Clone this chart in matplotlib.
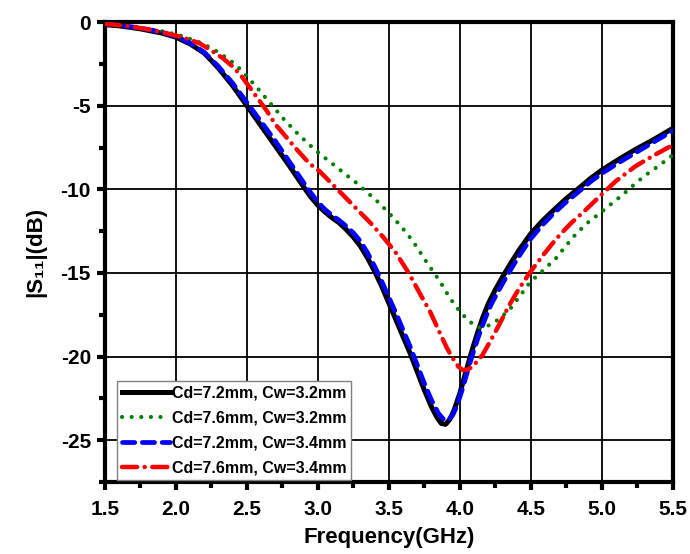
import matplotlib
matplotlib.use("Agg")
import matplotlib.pyplot as plt
from matplotlib.ticker import MultipleLocator

plt.rcParams['font.family'] = ['Liberation Sans', 'DejaVu Sans']
plt.rcParams['font.weight'] = 'bold'
plt.rcParams['axes.unicode_minus'] = False

# Cd=7.2mm, Cw=3.2mm
f_a = [1.5, 1.6, 1.75, 1.9, 2.0, 2.1, 2.2, 2.3, 2.4, 2.5, 2.6, 2.7, 2.8, 2.9, 2.95,
       3.0, 3.05, 3.1, 3.15, 3.2, 3.25, 3.3, 3.35, 3.4, 3.45, 3.5, 3.55, 3.6, 3.65,
       3.7, 3.75, 3.8, 3.84, 3.87, 3.9, 3.93, 3.96, 4.0, 4.04, 4.08, 4.12, 4.16, 4.2,
       4.25, 4.3, 4.36, 4.42, 4.5, 4.58, 4.66, 4.75, 4.85, 4.92, 5.0, 5.12, 5.24,
       5.37, 5.5]
s_a = [-0.15, -0.22, -0.4, -0.65, -0.9, -1.3, -1.85, -2.75, -3.8, -5.0, -6.2, -7.4,
       -8.6, -9.85, -10.45, -10.95, -11.35, -11.7, -12.0, -12.4, -12.85, -13.4, -14.1,
       -14.9, -15.8, -16.8, -17.8, -18.8, -19.8, -20.9, -22.0, -23.0, -23.65, -24.0,
       -24.05, -23.75, -23.2, -22.2, -21.0, -19.8, -18.7, -17.7, -16.85, -16.0, -15.25,
       -14.4, -13.6, -12.65, -11.9, -11.25, -10.55, -9.85, -9.35, -8.85, -8.2, -7.6,
       -7.0, -6.35]

# Cd=7.6mm, Cw=3.2mm
f_b = [1.5, 1.75, 1.93, 2.05, 2.19, 2.3, 2.4, 2.47, 2.57, 2.67, 2.76, 2.85, 2.93,
       3.01, 3.1, 3.18, 3.27, 3.35, 3.43, 3.51, 3.59, 3.67, 3.77, 3.86, 3.93, 4.0,
       4.06, 4.11, 4.15, 4.2, 4.27, 4.35, 4.43, 4.5, 4.58, 4.68, 4.75, 4.82, 4.9,
       4.99, 5.07, 5.15, 5.23, 5.3, 5.4, 5.5]
s_b = [-0.1, -0.35, -0.58, -0.85, -1.28, -1.8, -2.4, -2.95, -3.9, -4.9, -5.8, -6.6,
       -7.25, -7.85, -8.45, -9.0, -9.6, -10.2, -10.8, -11.5, -12.25, -13.1, -14.4,
       -15.5, -16.5, -17.3, -17.85, -18.15, -18.3, -18.15, -17.8, -17.2, -16.3, -15.5,
       -14.9, -14.1, -13.35, -12.65, -12.0, -11.4, -10.85, -10.3, -9.7, -9.2, -8.6,
       -7.95]

# Cd=7.2mm, Cw=3.4mm
f_c = [1.5, 1.6, 1.75, 1.9, 2.0, 2.1, 2.2, 2.3, 2.4, 2.5, 2.6, 2.7, 2.8, 2.9, 2.95,
       3.0, 3.05, 3.1, 3.15, 3.2, 3.25, 3.3, 3.35, 3.4, 3.45, 3.5, 3.55, 3.6, 3.65,
       3.7, 3.75, 3.8, 3.85, 3.89, 3.92, 3.95, 3.98, 4.02, 4.06, 4.1, 4.14, 4.18,
       4.22, 4.27, 4.32, 4.38, 4.44, 4.5, 4.58, 4.66, 4.75, 4.85, 4.92, 5.0, 5.12,
       5.24, 5.37, 5.5]
s_c = [-0.1, -0.18, -0.35, -0.6, -0.85, -1.25, -1.8, -2.65, -3.65, -4.8, -5.95, -7.1,
       -8.35, -9.6, -10.2, -10.75, -11.2, -11.55, -11.85, -12.2, -12.6, -13.1, -13.8,
       -14.6, -15.5, -16.45, -17.4, -18.4, -19.4, -20.5, -21.6, -22.6, -23.4, -23.8,
       -23.8, -23.5, -22.95, -21.9, -20.7, -19.6, -18.6, -17.7, -16.9, -16.1, -15.35,
       -14.5, -13.7, -12.95, -12.15, -11.45, -10.75, -10.05, -9.55, -9.05, -8.4, -7.8,
       -7.15, -6.5]

# Cd=7.6mm, Cw=3.4mm
f_d = [1.5, 1.65, 1.77, 1.9, 2.0, 2.1, 2.17, 2.25, 2.33, 2.4, 2.46, 2.52, 2.58, 2.64,
       2.7, 2.75, 2.85, 2.94, 3.01, 3.08, 3.15, 3.26, 3.37, 3.46, 3.55, 3.64, 3.73,
       3.79, 3.86, 3.91, 3.95, 3.99, 4.02, 4.05, 4.09, 4.16, 4.22, 4.28, 4.35, 4.42,
       4.5, 4.59, 4.68, 4.78, 4.89, 5.0, 5.1, 5.24, 5.36, 5.5]
s_d = [-0.1, -0.22, -0.38, -0.6, -0.8, -1.05, -1.28, -1.7, -2.15, -2.65, -3.2, -3.9,
       -4.6, -5.3, -6.1, -6.6, -7.6, -8.45, -8.9, -9.5, -10.1, -11.05, -12.0, -12.85,
       -13.8, -15.0, -16.4, -17.3, -18.6, -19.5, -20.1, -20.6, -20.8, -20.8, -20.6,
       -19.9, -19.0, -18.05, -16.9, -15.9, -14.9, -13.9, -12.95, -12.05, -11.2, -10.3,
       -9.5, -8.6, -8.0, -7.35]

labels = ['Cd=7.2mm, Cw=3.2mm', 'Cd=7.6mm, Cw=3.2mm',
          'Cd=7.2mm, Cw=3.4mm', 'Cd=7.6mm, Cw=3.4mm']

fig = plt.figure(figsize=(6.9, 5.54), dpi=100)
ax = fig.add_axes([0.152, 0.130, 0.823, 0.830])

ax.plot(f_a, s_a, color='black', lw=3.6, label=labels[0], zorder=3)
ax.plot(f_b, s_b, color='green', lw=3.0, linestyle=(0, (0.01, 2.3)),
        dash_capstyle='round', label=labels[1], zorder=4)
ax.plot(f_c, s_c, color='blue', lw=3.4, linestyle=(0, (2.6, 1.6)),
        dash_capstyle='round', label=labels[2], zorder=5)
ax.plot(f_d, s_d, color='red', lw=3.2, linestyle=(0, (3.4, 1.7, 0.01, 1.7)),
        dash_capstyle='round', label=labels[3], zorder=6)

ax.set_xlim(1.5, 5.5)
ax.set_ylim(-27.5, 0)
ax.xaxis.set_major_locator(MultipleLocator(0.5))
ax.xaxis.set_minor_locator(MultipleLocator(0.25))
ax.yaxis.set_major_locator(MultipleLocator(5))
ax.yaxis.set_minor_locator(MultipleLocator(2.5))

ax.grid(True, which='major', color='black', lw=1.3)
for sp in ax.spines.values():
    sp.set_linewidth(3)
ax.tick_params(which='major', direction='out', length=6, width=3,
               labelsize=15, pad=4, top=False, right=False)
ax.tick_params(axis='x', which='major', pad=7)
ax.tick_params(which='minor', direction='out', length=4, width=3,
               top=False, right=False)
for t in ax.get_xticklabels() + ax.get_yticklabels():
    t.set_fontweight('bold')

ax.set_xlabel('Frequency(GHz)', fontsize=16, fontweight='bold', labelpad=6)
ax.set_ylabel('|S₁₁|(dB)', fontsize=16, fontweight='bold', labelpad=10)

leg = ax.legend(loc='lower left', bbox_to_anchor=(0.019, 0.0), borderaxespad=0.1,
                handlelength=3.0, handletextpad=0.1,
                labelspacing=0.62, borderpad=0.3, fancybox=False,
                prop={'weight': 'bold', 'size': 11.5})
leg.get_frame().set_edgecolor('gray')
leg.get_frame().set_linewidth(1.0)
leg.get_frame().set_alpha(1)

fig.savefig('out.png', dpi=100)
